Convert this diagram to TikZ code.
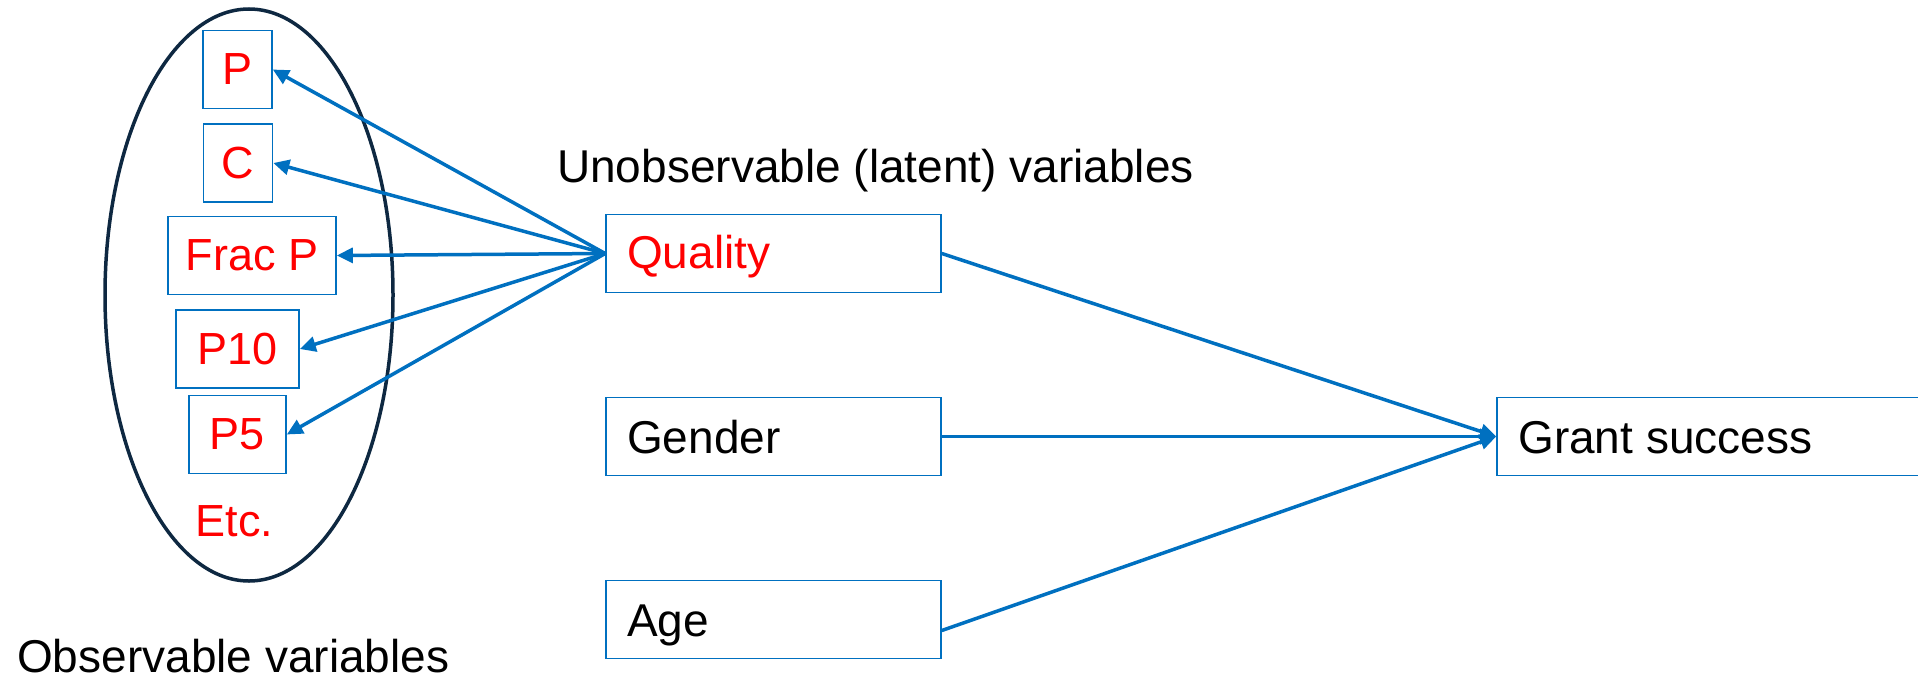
\documentclass[tikz,border=0pt]{standalone}
\usepackage{fontspec}
\setmainfont{Liberation Sans}
\usetikzlibrary{arrows.meta}
\definecolor{lnblue}{HTML}{0070C0}
\definecolor{ovalnavy}{HTML}{0E2841}
\definecolor{txtred}{HTML}{FF0000}
\tikzset{
  obsbox/.style={draw=lnblue, line width=1.6pt, inner sep=0pt, text=txtred,
     font=\fontsize{45}{52}\selectfont, minimum height=78pt},
  varbox/.style={draw=lnblue, line width=1.6pt, inner sep=0pt,
     minimum width=335pt, minimum height=78pt},
  boxtext/.style={anchor=base west, inner sep=0pt, font=\fontsize{46}{55}\selectfont},
  plaintext/.style={anchor=base west, inner sep=0pt, font=\fontsize{46}{55}\selectfont},
  link/.style={draw=lnblue, line width=3.5pt, -{Triangle[length=16pt,width=15pt]}},
}
\begin{document}
\begin{tikzpicture}[x=1pt,y=-1pt]
\useasboundingbox (0,0) rectangle (1918,680);
% ellipse of observable variables
\draw[ovalnavy, line width=3.5pt] (249,295) ellipse [x radius=144pt, y radius=286pt];
% observable boxes
\node[obsbox, minimum width=69pt] (P) at (237.5,69.5) {P};
\node[obsbox, minimum width=69pt] (C) at (238,163) {C};
\node[obsbox, minimum width=168pt] (FracP) at (252,255.5) {Frac P};
\node[obsbox, minimum width=123pt] (P10) at (237.5,349) {P10};
\node[obsbox, minimum width=97pt] (P5) at (237.5,434.5) {P5};
\node[inner sep=0pt, text=txtred, font=\fontsize{45}{52}\selectfont] (etc) at (234.5,521) {Etc.};
% latent / other variables
\node[varbox] (Quality) at (773.5,253.5) {};
\node[varbox] (Gender) at (773.5,436.5) {};
\node[varbox] (Age) at (773.5,619.5) {};
\node[draw=lnblue, line width=1.6pt, inner sep=0pt, minimum width=460pt, minimum height=78pt] (Grant) at (1727,436.5) {};
\node[boxtext, text=txtred] (qt) at (627,268) {Quality};
\node[boxtext] (gt) at (627,453) {Gender};
\node[boxtext] (at) at (627,636) {Age};
\node[boxtext] (grt) at (1518,453) {Grant success};
% free labels
\node[plaintext] (unobs) at (557,182) {Unobservable (latent) variables};
\node[plaintext] (obs) at (17,672) {Observable variables};
% connectors
\draw[link] (Quality.west) -- (P.east);
\draw[link] (Quality.west) -- (C.east);
\draw[link] (Quality.west) -- (FracP.east);
\draw[link] (Quality.west) -- (P10.east);
\draw[link] (Quality.west) -- (P5.east);
\draw[link] (Quality.east) -- (Grant.west);
\draw[link] (Gender.east) -- (Grant.west);
\coordinate (ageout) at ([yshift=-11pt]Age.east);
\draw[link] (ageout) -- (Grant.west);
\end{tikzpicture}
\end{document}
